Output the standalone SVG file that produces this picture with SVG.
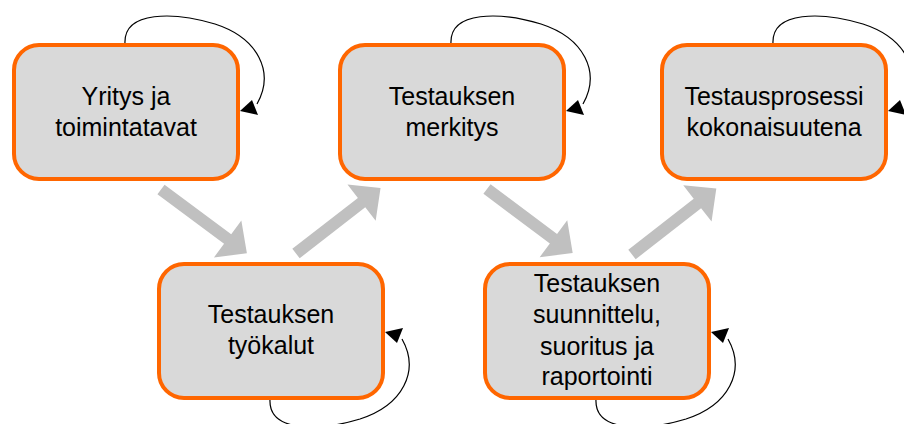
<svg xmlns="http://www.w3.org/2000/svg" xmlns:xlink="http://www.w3.org/1999/xlink" width="904" height="424" viewBox="0 0 904 424">
<style>
.box{fill:#D9D9D9;stroke:#FF6600;stroke-width:4}
.lbl{font-family:"Liberation Sans",Arial,sans-serif;font-size:25px;fill:#000;text-anchor:middle}
.loop{fill:none;stroke:#000;stroke-width:1.2}
.head{fill:#000}
.big{fill:#C0C0C0}
</style>
<defs>
<g id="loopTop">
<path class="loop" d="M125,44 C123,10 175,12 215,24 C258,38 275,72 257,104"/>
<polygon class="head" points="240,111 252,100 258,115"/>
</g>
<polygon id="bigArrow" class="big" points="0,-6 83,-6 83,-23 107,0 83,23 83,6 0,6"/>
</defs>
<rect width="904" height="424" fill="#fff"/>
<g id="connectors">
<use xlink:href="#bigArrow" transform="translate(161,189.5) rotate(36.6)"/>
<use xlink:href="#bigArrow" transform="translate(296,253.5) rotate(-37.8)"/>
<use xlink:href="#bigArrow" transform="translate(487,189) rotate(36.8)"/>
<use xlink:href="#bigArrow" transform="translate(632,254.5) rotate(-38)"/>
<use xlink:href="#loopTop"/>
<use xlink:href="#loopTop" transform="translate(326,0)"/>
<use xlink:href="#loopTop" transform="translate(648,0)"/>
<use xlink:href="#loopTop" transform="translate(145,443) scale(1,-1)"/>
<use xlink:href="#loopTop" transform="translate(471,443) scale(1,-1)"/>
</g>
<g id="node1">
<rect class="box" x="14" y="45" width="224" height="134" rx="25"/>
<text class="lbl" x="126" y="105">Yritys ja</text>
<text class="lbl" x="126" y="136">toimintatavat</text>
</g>
<g id="node2">
<rect class="box" x="340" y="45" width="224" height="134" rx="25"/>
<text class="lbl" x="452" y="105">Testauksen</text>
<text class="lbl" x="452" y="136">merkitys</text>
</g>
<g id="node3">
<rect class="box" x="662" y="45" width="224" height="134" rx="25"/>
<text class="lbl" x="774" y="105">Testausprosessi</text>
<text class="lbl" x="774" y="136">kokonaisuutena</text>
</g>
<g id="node4">
<rect class="box" x="159" y="264" width="224" height="134" rx="25"/>
<text class="lbl" x="271" y="323">Testauksen</text>
<text class="lbl" x="271" y="354">työkalut</text>
</g>
<g id="node5">
<rect class="box" x="485" y="264" width="224" height="134" rx="25"/>
<text class="lbl" x="597" y="292">Testauksen</text>
<text class="lbl" x="597" y="323">suunnittelu,</text>
<text class="lbl" x="597" y="355">suoritus ja</text>
<text class="lbl" x="597" y="385">raportointi</text>
</g>
</svg>
